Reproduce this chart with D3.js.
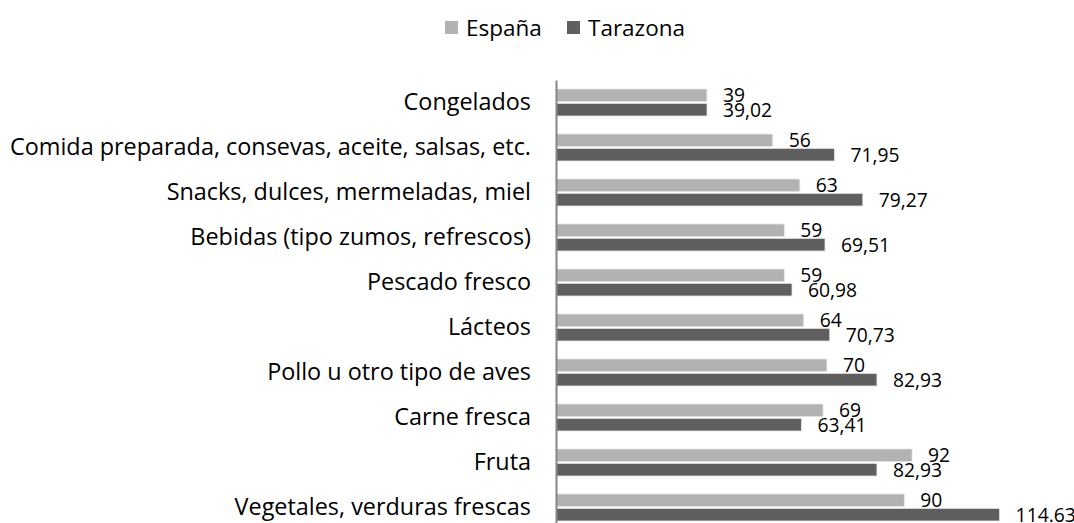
<!DOCTYPE html>
<html>
<head>
<meta charset="utf-8">
<script src="https://cdnjs.cloudflare.com/ajax/libs/d3/7.8.5/d3.min.js"></script>
<style>
  body { margin: 0; background: #fff; }
  text { font-family: "Open Sans", Lato, sans-serif; fill: #000; }
</style>
</head>
<body>
<svg id="chart" width="1074" height="523"></svg>
<script>
// categories, top to bottom
var categories = [
    'Congelados',
    'Comida preparada, consevas, aceite, salsas, etc.',
    'Snacks, dulces, mermeladas, miel',
    'Bebidas (tipo zumos, refrescos)',
    'Pescado fresco',
    'Lácteos',
    'Pollo u otro tipo de aves',
    'Carne fresca',
    'Fruta',
    'Vegetales, verduras frescas'
];
var seriesNames = ['España', 'Tarazona'];
var espana = [39, 56, 63, 59, 59, 64, 70, 69, 92, 90];
var tarazona = [39.02, 71.95, 79.27, 69.51, 60.98, 70.73, 82.93, 63.41, 82.93, 114.63];
var espanaLabels = ['39', '56', '63', '59', '59', '64', '70', '69', '92', '90'];
var tarazonaLabels = ['39,02', '71,95', '79,27', '69,51', '60,98', '70,73', '82,93', '63,41', '82,93', '114.63'];
var colors = ['#b2b2b2', '#5f5f5f'];

var svg = d3.select('#chart');

var x = d3.scaleLinear().domain([0, 120]).range([556, 556 + 120 * 3.87]);
var y = d3.scaleBand().domain(categories).range([80, 530]).paddingInner(0.4).paddingOuter(0.2);
var sub = d3.scaleBand().domain(seriesNames).range([0, y.bandwidth()]).paddingInner(0.12);

var rows = categories.map(function(c, i) {
    return {cat: c, vals: [
        {s: 'España', v: espana[i], lab: espanaLabels[i]},
        {s: 'Tarazona', v: tarazona[i], lab: tarazonaLabels[i]}
    ]};
});

var groups = svg.append('g').selectAll('g')
    .data(rows).enter().append('g')
    .attr('transform', function(d) { return 'translate(0,' + y(d.cat) + ')'; });

groups.selectAll('rect')
    .data(function(d) { return d.vals; })
    .enter().append('rect')
    .attr('x', x(0))
    .attr('y', function(d) { return sub(d.s); })
    .attr('width', function(d) { return x(d.v) - x(0); })
    .attr('height', sub.bandwidth())
    .attr('fill', function(d, i) { return colors[i]; })
    .attr('stroke', '#e6e6e6')
    .attr('stroke-width', 0.8);

groups.selectAll('text.val')
    .data(function(d) { return d.vals; })
    .enter().append('text')
    .attr('class', 'val')
    .attr('x', function(d) { return x(d.v) + 16; })
    .attr('y', function(d) { return sub(d.s) + sub.bandwidth() / 2; })
    .attr('dy', '0.36em')
    .style('font-size', '19.3px')
    .text(function(d) { return d.lab; });

// category axis
var yAxis = d3.axisLeft(y).tickSize(0).tickPadding(25);
var ag = svg.append('g').attr('transform', 'translate(556,0)').call(yAxis);
ag.select('.domain').attr('stroke', '#868686').attr('stroke-width', 2);
ag.selectAll('text').style('font-size', '23.4px').style('font-family', '"Open Sans", sans-serif').attr('fill', '#000');

// legend
var legend = svg.append('g');
var legX = [445, 567];
seriesNames.forEach(function(s, i) {
    legend.append('rect')
        .attr('x', legX[i]).attr('y', 21)
        .attr('width', 13).attr('height', 13)
        .attr('fill', colors[i]);
    legend.append('text')
        .attr('x', legX[i] + 21).attr('y', 28)
        .attr('dy', '0.36em')
        .style('font-size', '22.5px')
        .text(s);
});
</script>
</body>
</html>
